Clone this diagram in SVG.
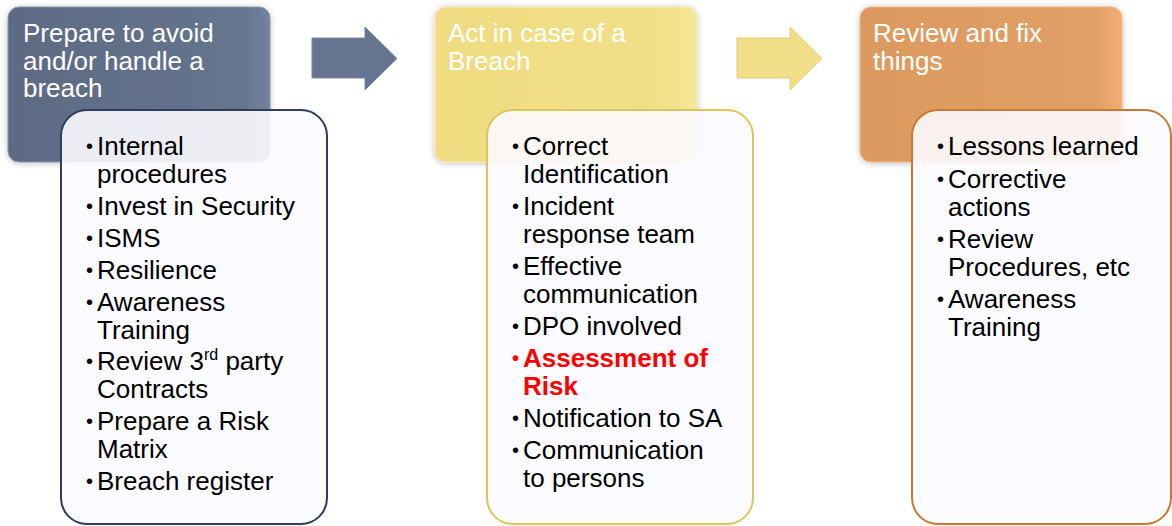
<svg xmlns="http://www.w3.org/2000/svg" width="1172" height="526" viewBox="0 0 1172 526">
  <style>
    .hdr { font-family: "Liberation Sans", Arial, sans-serif; font-size: 26px; fill: #ffffff; }
    .item { font-family: "Liberation Sans", Arial, sans-serif; font-size: 26px; fill: #000000; }
    .bul { font-size: 20px; }
    .hot { fill: #ff0000; font-weight: bold; }
    .card { fill: #fcfbff; fill-opacity: 0.9; stroke-width: 2; }
  </style>
  <defs>
    <filter id="soft" x="-10%" y="-10%" width="120%" height="125%">
      <feGaussianBlur in="SourceAlpha" stdDeviation="3"/>
      <feOffset dx="0" dy="1" result="blur"/>
      <feFlood flood-color="#000000" flood-opacity="0.25"/>
      <feComposite in2="blur" operator="in"/>
      <feMerge><feMergeNode/><feMergeNode in="SourceGraphic"/></feMerge>
    </filter>
    <linearGradient id="gSlate" x1="0" y1="0" x2="1" y2="0">
      <stop offset="0" stop-color="#5d6a84"/>
      <stop offset="0.9" stop-color="#66758f"/>
      <stop offset="1" stop-color="#7383a0"/>
    </linearGradient>
    <linearGradient id="gGold" x1="0" y1="0" x2="1" y2="0">
      <stop offset="0" stop-color="#efdc80"/>
      <stop offset="0.9" stop-color="#f2e08a"/>
      <stop offset="1" stop-color="#f6e79c"/>
    </linearGradient>
    <linearGradient id="gAmber" x1="0" y1="0" x2="1" y2="0">
      <stop offset="0" stop-color="#dc9a60"/>
      <stop offset="0.9" stop-color="#e09f66"/>
      <stop offset="1" stop-color="#f3ae74"/>
    </linearGradient>
  </defs>

  <!-- Stage 1: prepare -->
  <g id="stage-prepare">
    <rect x="8" y="7" width="262" height="155" rx="11" fill="url(#gSlate)" stroke="#8794ad" stroke-width="1" filter="url(#soft)"/>
    <text class="hdr" x="23" y="42">Prepare to avoid</text>
    <text class="hdr" x="23" y="69.5">and/or handle a</text>
    <text class="hdr" x="23" y="97">breach</text>
    <rect class="card" x="61" y="110" width="266" height="414" rx="26" stroke="#2e3d5c"/>
    <g class="item">
      <text class="bul" x="86" y="153">•</text><text x="97" y="155">Internal</text>
      <text x="97" y="182.5">procedures</text>
      <text class="bul" x="86" y="213">•</text><text x="97" y="215">Invest in Security</text>
      <text class="bul" x="86" y="245">•</text><text x="97" y="247">ISMS</text>
      <text class="bul" x="86" y="277">•</text><text x="97" y="279">Resilience</text>
      <text class="bul" x="86" y="309">•</text><text x="97" y="311">Awareness</text>
      <text x="97" y="338.5">Training</text>
      <text class="bul" x="86" y="368">•</text><text x="97" y="370">Review 3<tspan font-size="16" dy="-10">rd</tspan><tspan dy="10"> party</tspan></text>
      <text x="97" y="397.5">Contracts</text>
      <text class="bul" x="86" y="428">•</text><text x="97" y="430">Prepare a Risk</text>
      <text x="97" y="457.5">Matrix</text>
      <text class="bul" x="86" y="488">•</text><text x="97" y="490">Breach register</text>
    </g>
  </g>

  <!-- Stage 2: act -->
  <g id="stage-act">
    <rect x="435" y="7" width="262" height="155" rx="11" fill="url(#gGold)" stroke="#f7eaa8" stroke-width="1" filter="url(#soft)"/>
    <text class="hdr" x="448" y="42">Act in case of a</text>
    <text class="hdr" x="448" y="69.5">Breach</text>
    <rect class="card" x="487" y="110" width="266" height="414" rx="26" stroke="#dcc65c"/>
    <g class="item">
      <text class="bul" x="512" y="153">•</text><text x="523" y="155">Correct</text>
      <text x="523" y="182.5">Identification</text>
      <text class="bul" x="512" y="213">•</text><text x="523" y="215">Incident</text>
      <text x="523" y="242.5">response team</text>
      <text class="bul" x="512" y="273">•</text><text x="523" y="275">Effective</text>
      <text x="523" y="302.5">communication</text>
      <text class="bul" x="512" y="333">•</text><text x="523" y="335">DPO involved</text>
      <text class="bul hot" x="512" y="365">•</text><text x="523" y="367" class="hot">Assessment of</text>
      <text x="523" y="394.5" class="hot">Risk</text>
      <text class="bul" x="512" y="425">•</text><text x="523" y="427">Notification to SA</text>
      <text class="bul" x="512" y="457">•</text><text x="523" y="459">Communication</text>
      <text x="523" y="486.5">to persons</text>
    </g>
  </g>

  <!-- Stage 3: review -->
  <g id="stage-review">
    <rect x="860" y="7" width="262" height="155" rx="11" fill="url(#gAmber)" stroke="#f0b585" stroke-width="1" filter="url(#soft)"/>
    <text class="hdr" x="873" y="42">Review and fix</text>
    <text class="hdr" x="873" y="69.5">things</text>
    <rect class="card" x="912" y="110" width="259" height="414" rx="26" stroke="#c9782f"/>
    <g class="item">
      <text class="bul" x="937" y="153">•</text><text x="948" y="155">Lessons learned</text>
      <text class="bul" x="937" y="186">•</text><text x="948" y="188">Corrective</text>
      <text x="948" y="215.5">actions</text>
      <text class="bul" x="937" y="246">•</text><text x="948" y="248">Review</text>
      <text x="948" y="275.5">Procedures, etc</text>
      <text class="bul" x="937" y="306">•</text><text x="948" y="308">Awareness</text>
      <text x="948" y="335.5">Training</text>
    </g>
  </g>

  <!-- Block arrows between stages -->
  <g id="connectors">
    <path d="M312 38 H365 V27 L397 58.5 L365 90 V78 H312 Z" fill="#66758f" stroke="#7988a2" stroke-width="1"/>
    <path d="M737 38 H790 V27 L822 58.5 L790 90 V78 H737 Z" fill="#f2df8a" stroke="#e3cc6c" stroke-width="1"/>
  </g>
</svg>
